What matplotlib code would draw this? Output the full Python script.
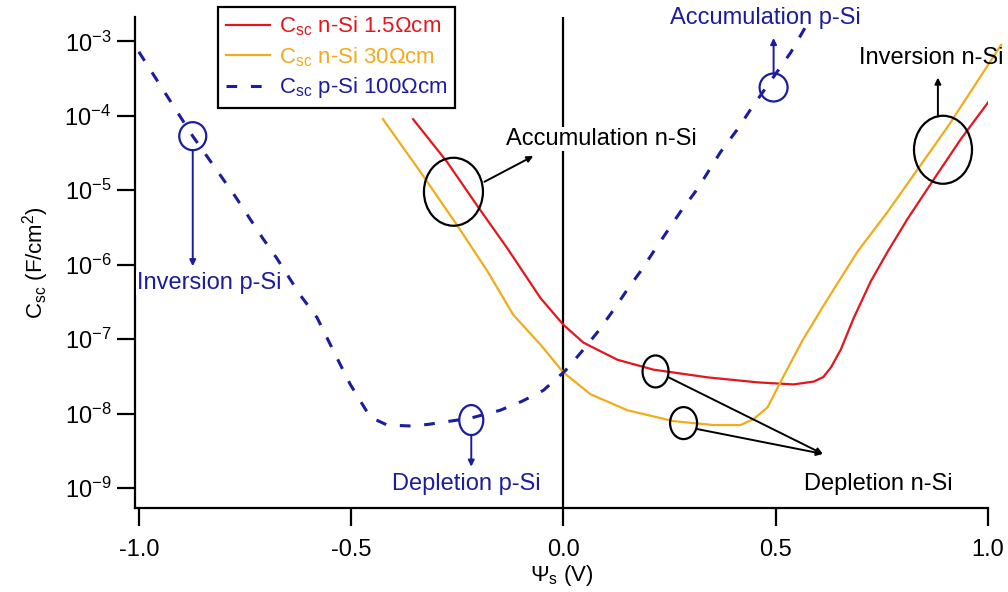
import matplotlib
matplotlib.use('Agg')
import matplotlib.pyplot as plt
from matplotlib.patches import Ellipse
from matplotlib.transforms import ScaledTranslation

plt.rcParams['font.family'] = ['Liberation Sans', 'DejaVu Sans']
plt.rcParams['mathtext.default'] = 'regular'

# n-Si 1.5 Ohm cm
red_psi = [-0.354, -0.274, -0.203, -0.132, -0.054, 0.0, 0.047, 0.127, 0.212, 0.340,
           0.458, 0.542, 0.590, 0.612, 0.630, 0.653, 0.684, 0.724, 0.764, 0.811,
           0.873, 0.936, 1.0]
red_c = [9.0e-5, 2.4e-5, 6.2e-6, 1.66e-6, 3.57e-7, 1.56e-7, 9.0e-8, 5.3e-8, 3.9e-8, 3.07e-8,
         2.63e-8, 2.47e-8, 2.7e-8, 3.1e-8, 4.17e-8, 7.2e-8, 1.94e-7, 6.0e-7, 1.51e-6, 4.17e-6,
         1.42e-5, 4.86e-5, 1.51e-4]

# n-Si 30 Ohm cm
yel_psi = [-0.425, -0.337, -0.250, -0.179, -0.118, -0.054, 0.0, 0.064, 0.151, 0.259,
           0.354, 0.417, 0.448, 0.481, 0.512, 0.564, 0.618, 0.693, 0.764, 0.835,
           0.906, 0.967, 1.031]
yel_c = [9.0e-5, 1.77e-5, 3.37e-6, 8.2e-7, 2.12e-7, 8.45e-8, 3.57e-8, 1.82e-8, 1.11e-8, 7.94e-9,
         7.03e-9, 7.03e-9, 8.45e-9, 1.22e-8, 2.71e-8, 9.84e-8, 3.16e-7, 1.51e-6, 5.17e-6, 1.94e-5,
         7.24e-5, 2.47e-4, 9.0e-4]

# p-Si 100 Ohm cm
blue_psi = [-1.0, -0.873, -0.774, -0.708, -0.675, -0.620, -0.580, -0.542, -0.502, -0.455,
            -0.415, -0.354, -0.314, -0.219, -0.149, -0.097, -0.047, 0.005, 0.047, 0.083,
            0.118, 0.153, 0.182, 0.222, 0.276, 0.316, 0.370, 0.410, 0.441, 0.535, 0.573]
blue_c = [7.24e-4, 5.33e-5, 8.45e-6, 2.26e-6, 1.22e-6, 3.92e-7, 1.94e-7, 7.03e-8, 2.47e-8, 8.98e-9,
          7.03e-9, 6.81e-9, 7.24e-9, 8.7e-9, 1.11e-8, 1.47e-8, 2.06e-8, 3.8e-8, 7.24e-8, 1.3e-7,
          2.47e-7, 4.86e-7, 8.2e-7, 1.82e-6, 5.17e-6, 1.05e-5, 3.26e-5, 6.6e-5, 1.22e-4, 7.03e-4, 1.66e-3]

RED = '#e3161d'
YEL = '#f0ac1a'
BLUE = '#1c1c9e'

fig = plt.figure(figsize=(10.08, 5.92), dpi=100)
ax = fig.add_axes([135/1008, 1 - 508/592, 853/1008, 491/592])

ax.axvline(0, color='k', lw=1.6, zorder=1)
ax.plot(red_psi, red_c, color=RED, lw=1.6, label='C$_{sc}$ n-Si 1.5Ωcm')
ax.plot(yel_psi, yel_c, color=YEL, lw=1.6, label='C$_{sc}$ n-Si 30Ωcm', clip_on=False)
ax.plot(blue_psi, blue_c, color=BLUE, lw=2.2, ls=(0, (3.5, 4.5)),
        label='C$_{sc}$ p-Si 100Ωcm', clip_on=False)

ax.set_yscale('log')
ax.set_xlim(-1.009, 1.0)
ax.set_ylim(10**-9.267, 10**-2.673)
ax.set_xticks([-1.0, -0.5, 0.0, 0.5, 1.0])
ax.set_xticklabels(['-1.0', '-0.5', '0.0', '0.5', '1.0'])
ax.set_yticks([1e-9, 1e-8, 1e-7, 1e-6, 1e-5, 1e-4, 1e-3])
ax.minorticks_off()
ax.spines['top'].set_visible(False)
ax.spines['right'].set_visible(False)
for s in ('left', 'bottom'):
    ax.spines[s].set_linewidth(1.6)
ax.tick_params(axis='both', direction='out', length=13, width=1.6, labelsize=17)
ax.tick_params(axis='x', pad=9)
ax.tick_params(axis='y', pad=4)

ax.set_xlabel('Ψ$_s$ (V)', fontsize=16, labelpad=2)
ax.set_ylabel('C$_{sc}$ (F/cm$^2$)', fontsize=16, labelpad=10)


def ring(x, y, w, h, color):
    tr = fig.dpi_scale_trans + ScaledTranslation(x, y, ax.transData)
    ax.add_patch(Ellipse((0, 0), w / 100, h / 100, transform=tr, fill=False,
                         ec=color, lw=1.6, clip_on=False, zorder=4))


def arrow(x0, y0, x1, y1, color):
    ax.annotate('', xy=(x1, y1), xytext=(x0, y0),
                arrowprops=dict(arrowstyle='-|>', color=color, lw=1.4,
                                mutation_scale=9, shrinkA=0, shrinkB=0),
                annotation_clip=False, zorder=4)


FS = 17

# p-Si regions
ring(-0.873, 5.33e-5, 27, 28, BLUE)
arrow(-0.873, 3.47e-5, -0.873, 9.55e-7, BLUE)
ax.text(-1.005, 5.67e-7, 'Inversion p-Si', color=BLUE, fontsize=FS, ha='left', va='center',
        bbox=dict(fc='white', ec='none', pad=0.5), zorder=5)

ring(-0.217, 8.2e-9, 24, 30, BLUE)
arrow(-0.217, 5.2e-9, -0.217, 1.94e-9, BLUE)
ax.text(-0.229, 1.15e-9, 'Depletion p-Si', color=BLUE, fontsize=FS, ha='center', va='center')

ring(0.495, 2.4e-4, 28, 28, BLUE)
arrow(0.495, 3.69e-4, 0.495, 1.11e-3, BLUE)
ax.text(0.476, 2.06e-3, 'Accumulation p-Si', color=BLUE, fontsize=FS, ha='center',
        va='center', clip_on=False)

# n-Si regions
ring(-0.259, 9.55e-6, 59, 68, 'black')
arrow(-0.186, 1.3e-5, -0.071, 2.88e-5, 'black')
ax.text(0.09, 4.86e-5, 'Accumulation n-Si', color='black', fontsize=FS, ha='center',
        va='center', bbox=dict(fc='white', ec='none', pad=0.5), zorder=5)

ring(0.894, 3.5e-5, 58, 68, 'black')
arrow(0.882, 9.8e-5, 0.882, 3.26e-4, 'black')
ax.text(0.866, 6.0e-4, 'Inversion n-Si', color='black', fontsize=FS, ha='center',
        va='center', zorder=2, clip_on=False)

ring(0.217, 3.69e-8, 26, 32, 'black')
ring(0.283, 7.47e-9, 27, 32, 'black')
arrow(0.248, 3.07e-8, 0.611, 2.88e-9, 'black')
arrow(0.316, 6.2e-9, 0.611, 2.88e-9, 'black')
ax.text(0.741, 1.15e-9, 'Depletion n-Si', color='black', fontsize=FS, ha='center', va='center')

leg = ax.legend(loc='upper left', bbox_to_anchor=(218/1008, 1 - 7/592),
                bbox_transform=fig.transFigure, borderaxespad=0, fontsize=16,
                labelcolor='linecolor', fancybox=False, framealpha=1,
                edgecolor='black', handlelength=2.0, handletextpad=0.4,
                labelspacing=0.3, borderpad=0.35)
leg.get_frame().set_linewidth(1.6)
leg.set_zorder(10)

fig.savefig('out.png', dpi=100)
